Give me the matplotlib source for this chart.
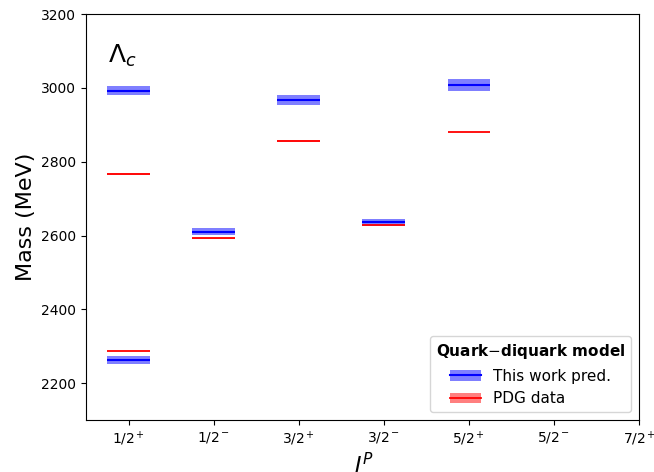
import matplotlib
matplotlib.use("Agg")
import matplotlib.pyplot as plt
from matplotlib.patches import Patch
from matplotlib.lines import Line2D

labels = ['1/2$^+$', '1/2$^-$', '3/2$^+$', '3/2$^-$', '5/2$^+$', '5/2$^-$', '7/2$^+$']

# model predictions: (J^P slot, mass, error)
pred_pos = [1, 1, 2, 3, 4, 5]
pred_mass = [2993, 2263, 2611, 2968, 2636, 3009]
pred_err = [13, 10, 9, 13, 9, 16]

# PDG data
pdg_pos = [1, 1, 2, 3, 4, 5]
pdg_mass = [2766.6, 2286.5, 2592.3, 2856.1, 2628.1, 2881.6]
pdg_err = [2.4, 0.1, 0.3, 3.5, 0.2, 0.3]

fig, ax = plt.subplots(figsize=(6.54, 4.72), dpi=100)
fig.subplots_adjust(left=0.1315, right=0.977, top=0.970, bottom=0.110)

hw = 0.25
for x, m, e in zip(pred_pos, pred_mass, pred_err):
    ax.fill_between([x - hw, x + hw], m - e, m + e, color='blue', alpha=0.5, lw=0)
    ax.hlines(m, x - hw, x + hw, color='blue', lw=1.5)
for x, m, e in zip(pdg_pos, pdg_mass, pdg_err):
    ax.fill_between([x - hw, x + hw], m - e, m + e, color='red', alpha=0.5, lw=0)
    ax.hlines(m, x - hw, x + hw, color='red', lw=1.3)

ax.set_xlim(0.5, 7)
ax.set_ylim(2100, 3200)
ax.set_xticks(range(1, 8))
ax.set_xticklabels(labels, fontsize=10)
ax.tick_params(axis='y', labelsize=10)
ax.set_ylabel('Mass (MeV)', fontsize=16)
ax.set_xlabel('$J^P$', fontsize=16, labelpad=2)
ax.text(0.04, 0.93, r'$\Lambda_c$', transform=ax.transAxes, fontsize=18, va='top')

h1 = (Patch(color='blue', alpha=0.5, lw=0), Line2D([], [], color='blue', lw=1.5))
h2 = (Patch(color='red', alpha=0.5, lw=0), Line2D([], [], color='red', lw=1.3))
leg = ax.legend([h1, h2], ['This work pred.', 'PDG data'], loc='lower right',
                title='Quark$-$diquark model', fontsize=11)
leg.get_title().set_fontweight('bold')
leg.get_title().set_fontsize(11)

fig.savefig('out.png', dpi=100)
